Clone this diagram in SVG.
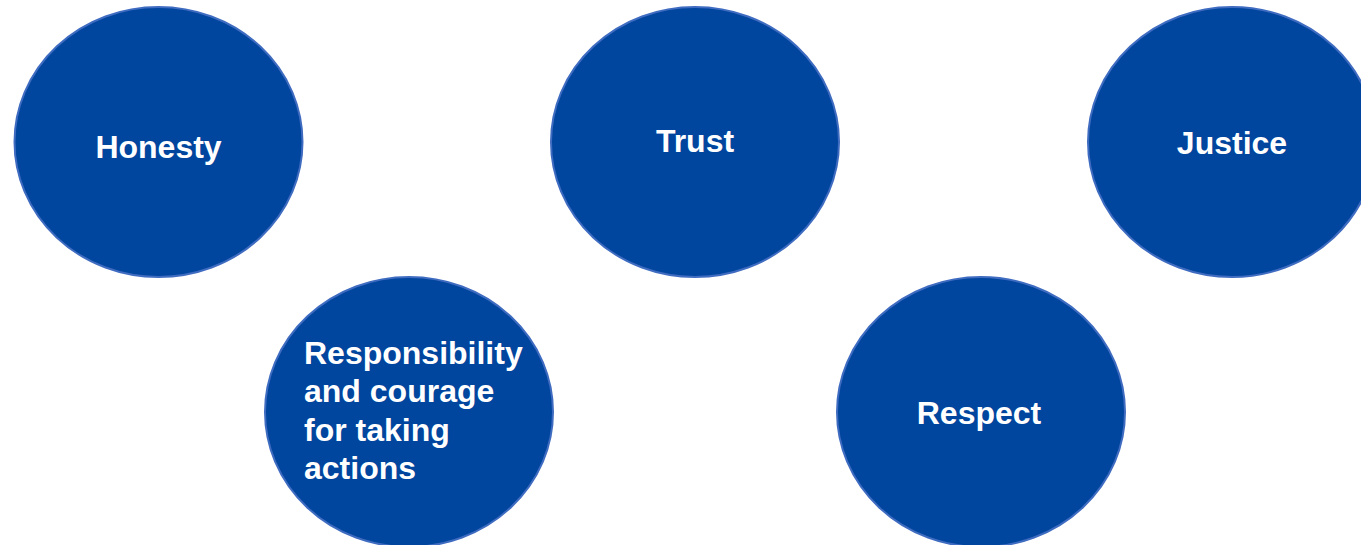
<svg xmlns="http://www.w3.org/2000/svg" width="1361" height="545" viewBox="0 0 1361 545">
<style>
.c{fill:#00459E;stroke:#3F6CC0;stroke-width:2}
.t{fill:#fff;font-family:"Liberation Sans",Arial,sans-serif;font-weight:bold;font-size:32px}
.m{text-anchor:middle}
</style>
<rect width="1361" height="545" fill="#fff"/>
<g id="connectors"/>
<g id="honesty"><ellipse class="c" cx="158.5" cy="142" rx="144" ry="135"/><text class="t m" x="158.5" y="158">Honesty</text></g>
<g id="trust"><ellipse class="c" cx="695" cy="142" rx="144" ry="135"/><text class="t m" x="695" y="152">Trust</text></g>
<g id="justice"><ellipse class="c" cx="1232" cy="142" rx="144" ry="135"/><text class="t m" x="1232" y="154">Justice</text></g>
<g id="responsibility"><ellipse class="c" cx="409" cy="412" rx="144" ry="135"/><text class="t" x="304"><tspan x="304" y="364">Responsibility</tspan><tspan x="304" y="402">and courage</tspan><tspan x="304" y="441">for taking</tspan><tspan x="304" y="479">actions</tspan></text></g>
<g id="respect"><ellipse class="c" cx="981" cy="412" rx="144" ry="135"/><text class="t m" x="979" y="424">Respect</text></g>
</svg>
